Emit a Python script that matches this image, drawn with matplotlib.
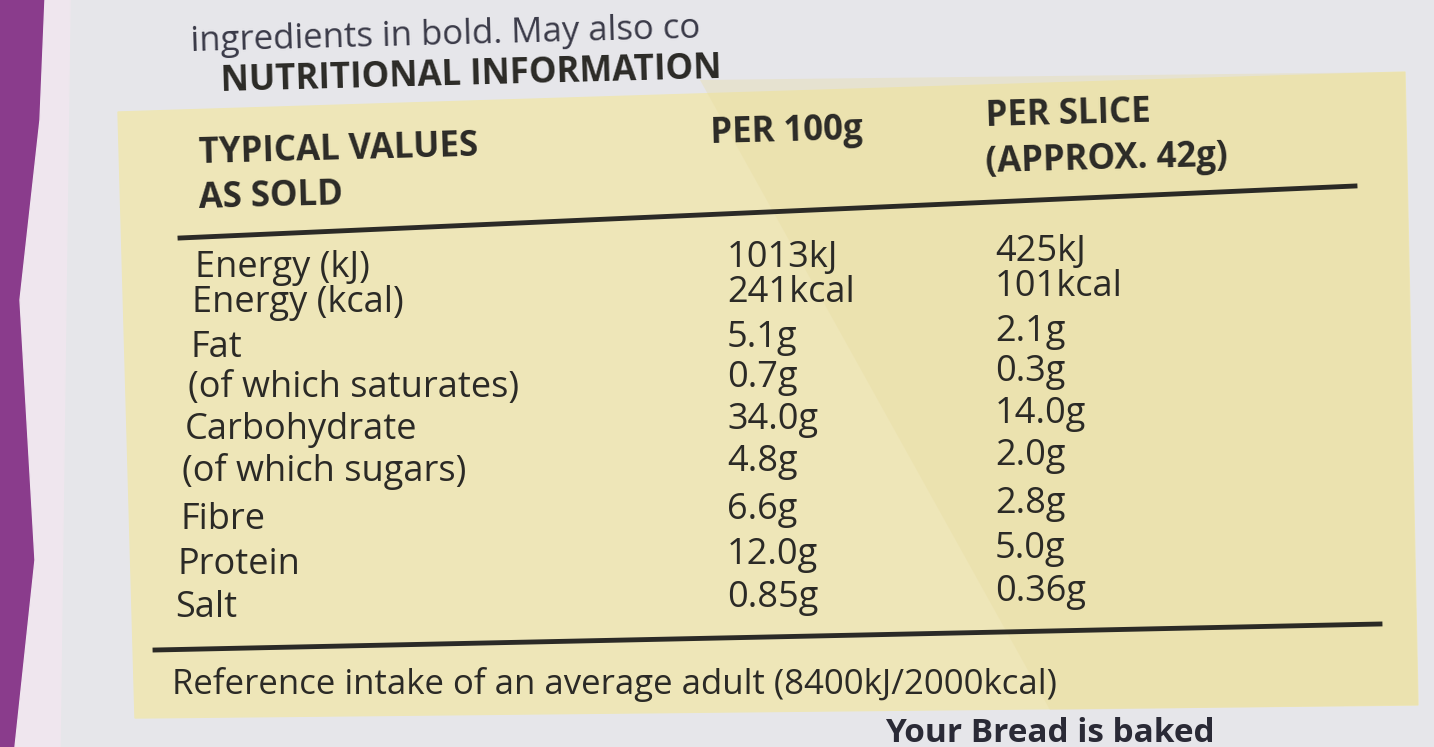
import matplotlib
matplotlib.use("Agg")
import matplotlib.pyplot as plt
from matplotlib.patches import Polygon

nutrients = ["Energy (kJ)", "Energy (kcal)", "Fat", "(of which saturates)", "Carbohydrate",
             "(of which sugars)", "Fibre", "Protein", "Salt"]
per_100g = ["1013kJ", "241kcal", "5.1g", "0.7g", "34.0g", "4.8g", "6.6g", "12.0g", "0.85g"]
per_slice = ["425kJ", "101kcal", "2.1g", "0.3g", "14.0g", "2.0g", "2.8g", "5.0g", "0.36g"]
row_y = [268, 303, 348, 388, 430, 472, 520, 565, 608]

W, H = 1434, 747
fig = plt.figure(figsize=(W/100, H/100), dpi=100)
fig.patch.set_facecolor("#e6e6ea")
ax = fig.add_axes([0, 0, 1, 1])
ax.set_xlim(0, W); ax.set_ylim(H, 0); ax.axis("off")

ax.add_patch(Polygon([(0, 0), (45, 0), (40, 120), (20, 300), (35, 560), (15, 747), (0, 747)],
                     closed=True, color="#8a3c8c", zorder=0))
ax.add_patch(Polygon([(45, 0), (70, 0), (60, 747), (15, 747), (35, 560), (20, 300), (40, 120)],
                     closed=True, color="#efe6ee", zorder=0))
ax.add_patch(Polygon([(118, 112), (1405, 72), (1418, 705), (135, 718)], closed=True,
                     color="#eee6b8", zorder=1))
ax.add_patch(Polygon([(700, 80), (1405, 72), (1418, 705), (1050, 710)], closed=True,
                     color="#e8dca0", alpha=0.35, zorder=1, lw=0))

c = "#2b2a26"
F = "Open Sans"
ax.text(190, 35, "ingredients in bold. May also co", fontsize=25, color="#3a3a48", va="center",
        family=F, rotation=1.5)
ax.text(220, 75, "NUTRITIONAL INFORMATION", fontsize=25, color=c, va="center",
        family=F, weight="bold", rotation=1.5)
ax.text(198, 150, "TYPICAL VALUES", fontsize=25, color=c, va="center", family=F, weight="bold", rotation=1.5)
ax.text(198, 197, "AS SOLD", fontsize=25, color=c, va="center", family=F, weight="bold", rotation=1.5)
ax.text(710, 132, "PER 100g", fontsize=25, color=c, va="center", family=F, weight="bold", rotation=1.5)
ax.text(985, 115, "PER SLICE", fontsize=25, color=c, va="center", family=F, weight="bold", rotation=1.5)
ax.text(985, 160, "(APPROX. 42g)", fontsize=25, color=c, va="center", family=F, weight="bold", rotation=1.5)

ax.plot([180, 1355], [238, 186], color=c, lw=3.5, zorder=2)
ax.plot([155, 1380], [650, 624], color=c, lw=3.5, zorder=2)

for i, (n, a, b, y) in enumerate(zip(nutrients, per_100g, per_slice, row_y)):
    xl = 195 - i * 2.5
    ax.text(xl, y, n, fontsize=26, color=c, va="center", family=F)
    ax.text(727, y - 10, a, fontsize=26, color=c, va="center", family=F)
    ax.text(995, y - 16, b, fontsize=26, color=c, va="center", family=F)

ax.text(172, 685, "Reference intake of an average adult (8400kJ/2000kcal)", fontsize=25,
        color=c, va="center", family=F)
ax.text(885, 733, "Your Bread is baked", fontsize=24, color="#2a2a36", va="center",
        family=F, weight="bold")

fig.savefig("out.png", dpi=100, facecolor=fig.get_facecolor())
